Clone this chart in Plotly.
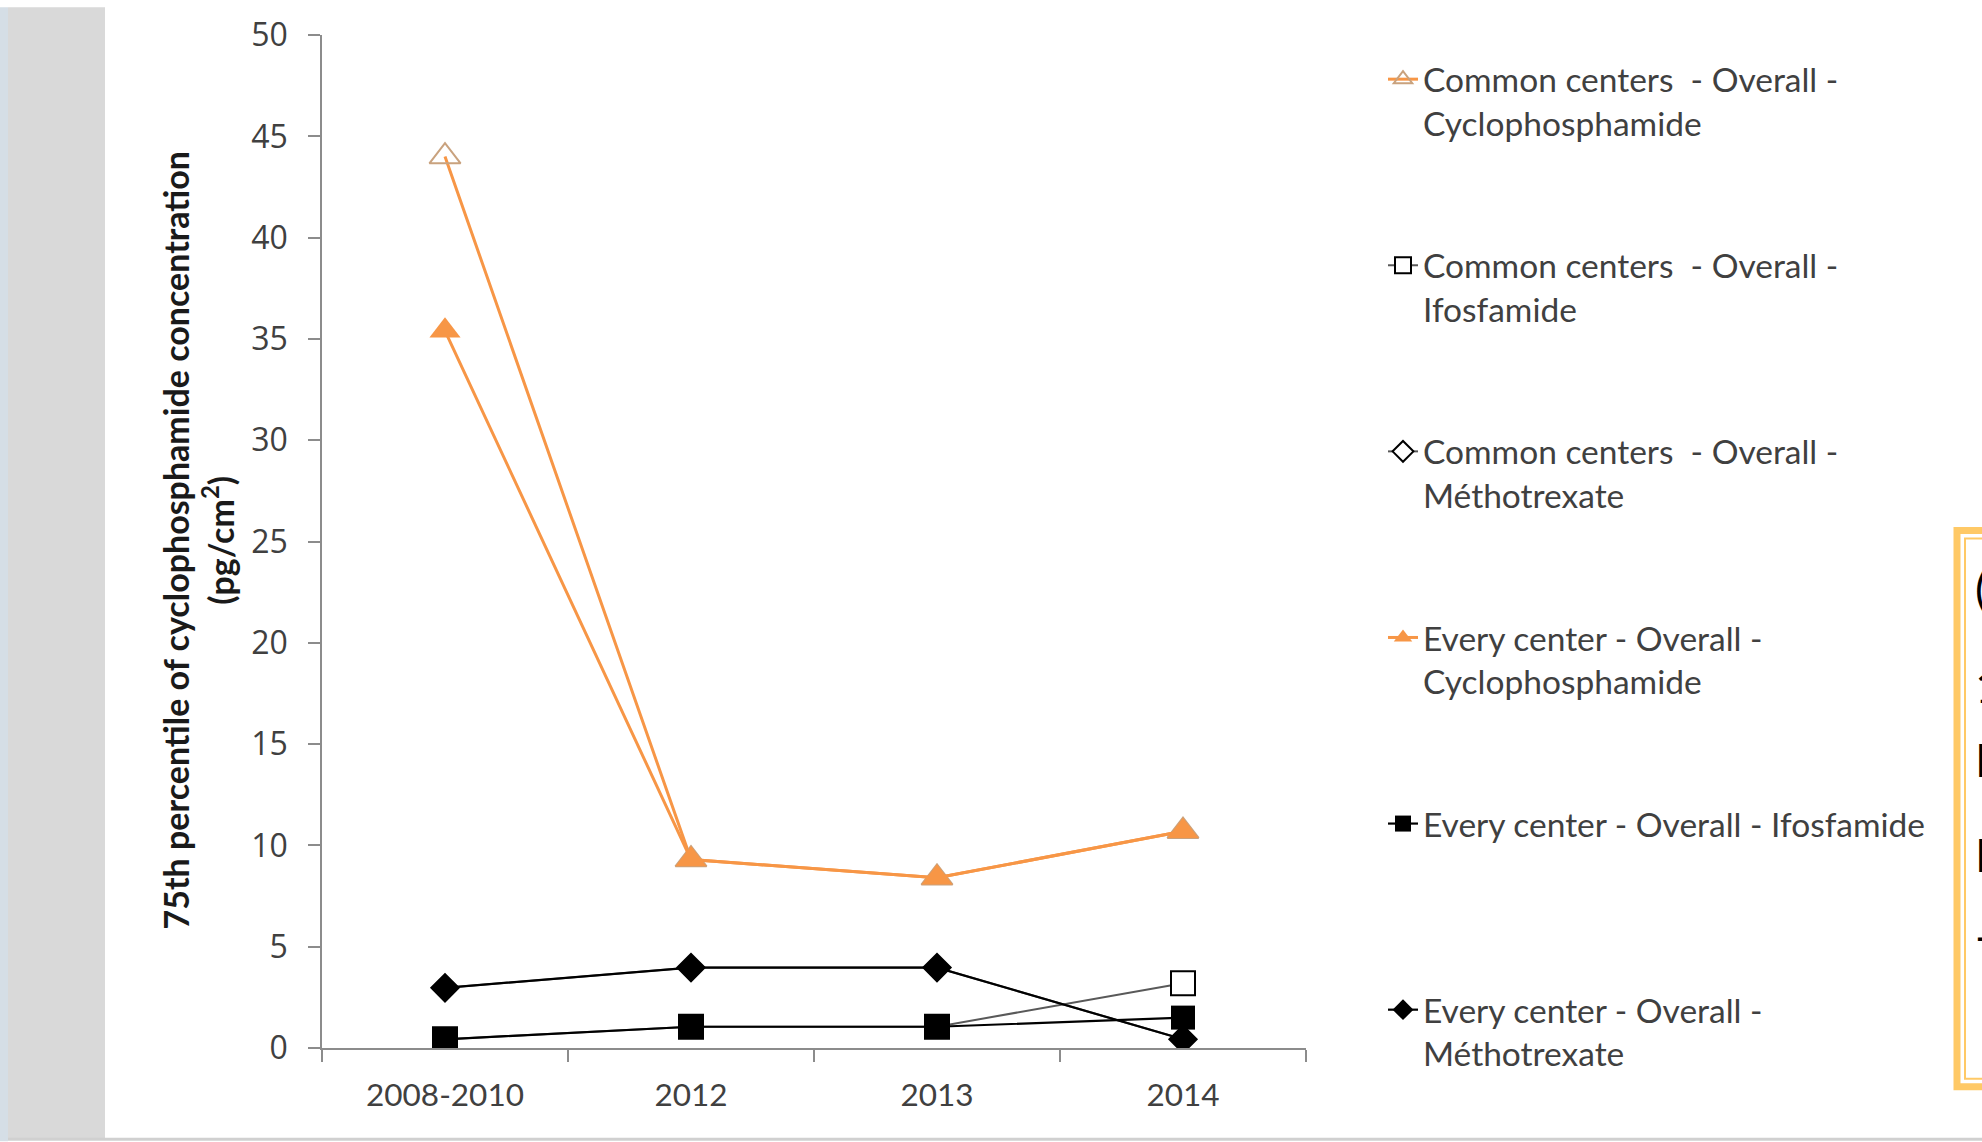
import plotly.graph_objects as go

categories = ["2008-2010", "2012", "2013", "2014"]
cc_cyclo = [44.0, 9.3, 8.4, 10.7]
cc_ifos = [0.43, 1.05, 1.05, 3.2]
cc_metho = [2.97, 3.97, 3.97, 0.43]
ec_cyclo = [35.4, 9.3, 8.4, 10.7]
ec_ifos = [0.43, 1.05, 1.05, 1.5]
ec_metho = [2.97, 3.97, 3.97, 0.43]

names = [
    "Common centers  - Overall -<br>Cyclophosphamide",
    "Common centers  - Overall -<br>Ifosfamide",
    "Common centers  - Overall -<br>Méthotrexate",
    "Every center - Overall -<br>Cyclophosphamide",
    "Every center - Overall - Ifosfamide<br>\u00a0",
    "Every center - Overall -<br>Méthotrexate",
]
side_chars = ["(", "1", "I", "I", "-"]

W, H = 1982, 1142
L, R, T, B = 322, 1306, 28, 1048


def px(X):
    return (X - L) / (R - L)


def py(Y):
    return (B - Y) / (B - T)


ORANGE = "#F79646"
FONT = "Lato"
TXT = "#404040"

fig = go.Figure()

series = [
    (cc_cyclo, dict(color=ORANGE, width=3), dict(symbol="triangle-up-open", size=27, color="#C9A27E", line=dict(width=2))),
    (cc_ifos, dict(color="#595959", width=2), dict(symbol="square", size=24, color="white", line=dict(color="black", width=2))),
    (cc_metho, dict(color="#595959", width=2), dict(symbol="diamond", size=21, color="white", line=dict(color="black", width=2))),
    (ec_cyclo, dict(color=ORANGE, width=3), dict(symbol="triangle-up", size=27, color=ORANGE, line=dict(width=0))),
    (ec_ifos, dict(color="black", width=2.2), dict(symbol="square", size=24, color="black", line=dict(width=0))),
    (ec_metho, dict(color="black", width=2.2), dict(symbol="diamond", size=21, color="black", line=dict(width=0))),
]

for i, (vals, ln, mk) in enumerate(series):
    fig.add_trace(go.Scatter(
        x=categories, y=vals, mode="lines+markers", name=names[i],
        line=ln, marker=mk, legendgroup=f"g{i}",
    ))

shapes = [
    dict(type="rect", xref="paper", yref="paper", x0=px(0), x1=px(8), y0=py(H), y1=py(0),
         fillcolor="#D5DEE6", line=dict(width=0), layer="below"),
    dict(type="rect", xref="paper", yref="paper", x0=px(8), x1=px(105), y0=py(1139), y1=py(0),
         fillcolor="#D9D9D9", line=dict(width=0), layer="below"),
    dict(type="line", xref="paper", yref="paper", x0=px(8), x1=px(W), y0=py(1140), y1=py(1140),
         line=dict(color="#D0D0D0", width=3)),
    dict(type="rect", xref="paper", yref="paper", x0=px(1957), x1=px(2010), y0=py(527), y1=py(1087),
         fillcolor="rgba(0,0,0,0)", line=dict(color="#FFC966", width=7)),
    dict(type="rect", xref="paper", yref="paper", x0=px(1965), x1=px(2010), y0=py(535), y1=py(1079),
         fillcolor="rgba(0,0,0,0)", line=dict(color="#FFC966", width=2)),
]

annotations = [
    dict(text="<b>75th percentile of cyclophosphamide concentration<br>(pg/cm<sup>2</sup>)</b>",
         xref="paper", yref="paper", x=px(198), y=py(537), xanchor="center", yanchor="middle",
         textangle=-90, showarrow=False, font=dict(family=FONT, size=34, color="#1a1a1a")),
]
side_y = [585, 683, 758, 853, 935]
for ch, yy in zip(side_chars, side_y):
    annotations.append(dict(text=ch, xref="paper", yref="paper", x=px(1973), y=py(yy),
                            xanchor="left", yanchor="middle", showarrow=False,
                            font=dict(family=FONT, size=46, color="black")))

fig.update_layout(
    width=W, height=H,
    margin=dict(l=L, r=W - R, t=T, b=H - B),
    paper_bgcolor="white", plot_bgcolor="white",
    showlegend=True,
    legend=dict(x=px(1383), y=py(44), xanchor="left", yanchor="top",
                font=dict(family=FONT, size=33.5, color=TXT), maxheight=1142,
                tracegroupgap=96, valign="top", bgcolor="rgba(0,0,0,0)"),
    xaxis=dict(type="category", range=[-0.5, 3.5], tickson="boundaries", ticks="outside", ticklen=12,
               tickcolor="#8C8C8C", tickwidth=1.5, showline=True, linecolor="#8C8C8C",
               linewidth=1.5, showgrid=False, zeroline=False,
               tickfont=dict(family=FONT, size=31.5, color=TXT), ticklabelstandoff=18),
    yaxis=dict(range=[0, 50], dtick=5, ticks="outside", ticklen=12, tickcolor="#8C8C8C",
               tickwidth=1.5, showline=True, linecolor="#8C8C8C", linewidth=1.5,
               showgrid=False, zeroline=False,
               tickfont=dict(family="Open Sans", size=32, color=TXT), ticklabelstandoff=14),
    shapes=shapes, annotations=annotations,
)

fig.write_html("out.html")
